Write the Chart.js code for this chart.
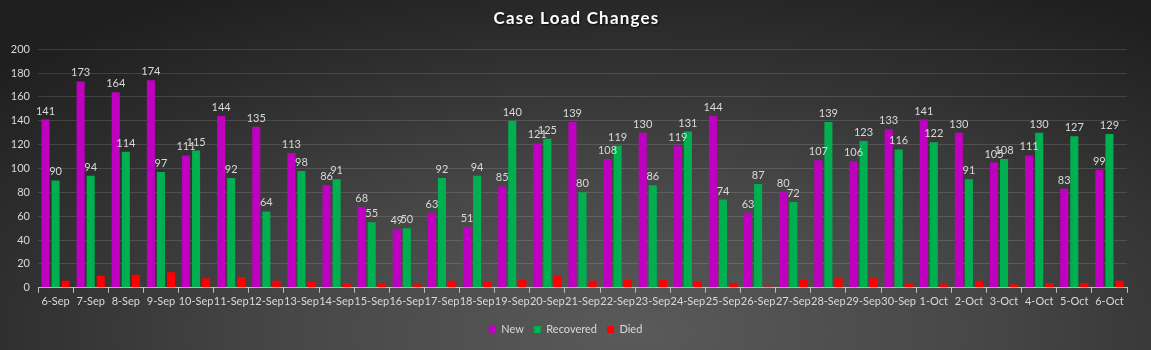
<!DOCTYPE html>
<html>
<head>
<meta charset="utf-8">
<script src="https://cdn.jsdelivr.net/npm/chart.js@4/dist/chart.umd.min.js"></script>
<style>
  html, body { margin: 0; padding: 0; }
  body {
    width: 1151px; height: 350px; overflow: hidden;
    background: radial-gradient(ellipse 75% 110% at 55% 95%, #5a5a5a 0%, #474747 40%, #2e2e2e 75%, #1f1f1f 100%);
  }
  #wrap { position: relative; width: 1151px; height: 350px; }
</style>
</head>
<body>
<div id="wrap"><canvas id="chart-1"></canvas></div>
<script>
const days = ["6-Sep","7-Sep","8-Sep","9-Sep","10-Sep","11-Sep","12-Sep","13-Sep","14-Sep","15-Sep",
  "16-Sep","17-Sep","18-Sep","19-Sep","20-Sep","21-Sep","22-Sep","23-Sep","24-Sep","25-Sep",
  "26-Sep","27-Sep","28-Sep","29-Sep","30-Sep","1-Oct","2-Oct","3-Oct","4-Oct","5-Oct","6-Oct"];
const newCases = [141,173,164,174,111,144,135,113,86,68,49,63,51,85,121,139,108,130,119,144,63,80,107,106,133,141,130,105,111,83,99];
const recovered = [90,94,114,97,115,92,64,98,91,55,50,92,94,140,125,80,119,86,131,74,87,72,139,123,116,122,91,108,130,127,129];
const died = [6,10,11,13,8,9,6,5,4,4,3,6,5,7,10,6,7,7,5,4,1,7,8,8,4,3,6,3,4,4,6];
const yTicks = [0,20,40,60,80,100,120,140,160,180,200];

const textColor = "#d9d9d9";
const titleText = "Case Load Changes";

// value labels above the New / Recovered bars
const barLabels = {
  id: "barLabels",
  afterDatasetsDraw(chart) {
    const ctx = chart.ctx;
    ctx.save();
    ctx.font = "11px Lato";
    ctx.fillStyle = textColor;
    ctx.textAlign = "center";
    ctx.textBaseline = "bottom";
    [0, 1].forEach(i => {
      const meta = chart.getDatasetMeta(i);
      meta.data.forEach((bar, j) => {
        ctx.fillText(chart.data.datasets[i].data[j], bar.x, bar.y - 3);
      });
    });
    ctx.restore();
  }
};

// spaced title with a soft shadow, drawn where the (invisible) title block sits
const spacedTitle = {
  id: "spacedTitle",
  afterDraw(chart) {
    const tb = chart.titleBlock;
    const ctx = chart.ctx;
    ctx.save();
    ctx.font = "bold 17px Lato";
    ctx.letterSpacing = "1.2px";
    ctx.fillStyle = "#ffffff";
    ctx.textAlign = "center";
    ctx.textBaseline = "middle";
    ctx.shadowColor = "rgba(0,0,0,0.8)";
    ctx.shadowOffsetX = 1;
    ctx.shadowOffsetY = 1;
    ctx.shadowBlur = 2;
    ctx.fillText(titleText, chart.width / 2 + 1, tb.top + 4 + 9);
    ctx.restore();
  }
};

const ctx1 = document.getElementById("chart-1").getContext("2d");
const myChart = new Chart(ctx1, {
  type: "bar",
  data: {
    labels: days,
    datasets: [
      { label: "New", data: newCases, backgroundColor: "#c000c0" },
      { label: "Recovered", data: recovered, backgroundColor: "#00b050" },
      { label: "Died", data: died, backgroundColor: "#ff0000" },
    ],
  },
  options: {
    responsive: true,
    maintainAspectRatio: false,
    animation: false,
    datasets: { bar: { categoryPercentage: 0.86, barPercentage: 0.8 } },
    layout: { padding: { left: 4, right: 24, top: 6, bottom: 5 } },
    plugins: {
      title: {
        display: true,
        text: titleText,
        color: "rgba(0,0,0,0)",
        font: { family: "Lato", size: 16, weight: "bold" },
        padding: { top: 4, bottom: 20 }
      },
      legend: {
        position: "bottom",
        labels: {
          color: textColor,
          font: { family: "Lato", size: 11 },
          boxWidth: 7, boxHeight: 7, padding: 10
        }
      },
      tooltip: { enabled: false }
    },
    scales: {
      x: {
        afterFit: scale => { scale.height += 4; },
        grid: { drawOnChartArea: false, drawTicks: true, tickLength: 5, color: "#bfbfbf" },
        border: { color: "#bfbfbf" },
        ticks: { color: textColor, font: { family: "Lato", size: 11 }, maxRotation: 0, autoSkip: false, padding: 2 }
      },
      y: {
        min: 0, max: 200,
        afterBuildTicks: scale => { scale.ticks = yTicks.map(v => ({ value: v })); },
        afterFit: scale => { scale.width = 34; },
        grid: { color: "rgba(255,255,255,0.13)", drawTicks: false },
        border: { display: false },
        ticks: { color: textColor, font: { family: "Lato", size: 11 }, padding: 8 }
      }
    }
  },
  plugins: [barLabels, spacedTitle]
});
</script>
</body>
</html>
